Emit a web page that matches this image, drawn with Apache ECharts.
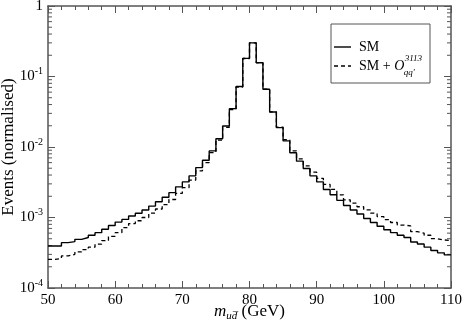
<!DOCTYPE html>
<html>
<head>
<meta charset="utf-8">
<script src="https://cdn.jsdelivr.net/npm/echarts@6/dist/echarts.min.js"></script>
<style>
body{margin:0;background:#fff}
#main{width:464px;height:327px}
</style>
</head>
<body>
<div id="main"></div>
<script>
// bin edges of the m_ud histogram (1 GeV bins), last entry closes the last bin
var binEdges = [50,51,52,53,54,55,56,57,58,59,60,61,62,63,64,65,66,67,68,69,
                70,71,72,73,74,75,76,77,78,79,80,81,82,83,84,85,86,87,88,89,
                90,91,92,93,94,95,96,97,98,99,100,101,102,103,104,105,106,107,108,109,110]

// SM
var smVals = [3.95e-4,3.95e-4,4.4e-4,4.55e-4,4.9e-4,5.2e-4,5.6e-4,6.1e-4,6.8e-4,7.7e-4,
              8.6e-4,9.4e-4,1.05e-3,1.15e-3,1.28e-3,1.45e-3,1.67e-3,1.94e-3,2.25e-3,2.72e-3,
              3.2e-3,3.9e-3,5.1e-3,6.5e-3,8.8e-3,1.31e-2,1.99e-2,3.5e-2,7.2e-2,0.181,
              0.30,0.157,0.066,0.0313,0.0188,0.0122,8.3e-3,6.3e-3,4.95e-3,3.9e-3,
              3.2e-3,2.5e-3,2.1e-3,1.75e-3,1.48e-3,1.28e-3,1.12e-3,9.7e-4,8.5e-4,7.5e-4,
              6.7e-4,6.1e-4,5.6e-4,5.2e-4,4.5e-4,4.2e-4,3.8e-4,3.4e-4,3.15e-4,2.95e-4]

// SM + O_qq'^3113
var opVals = [2.55e-4,2.62e-4,2.85e-4,3.0e-4,3.25e-4,3.5e-4,3.8e-4,4.2e-4,4.7e-4,5.4e-4,
              6.1e-4,7.2e-4,8.2e-4,9.0e-4,1.0e-3,1.15e-3,1.32e-3,1.52e-3,1.8e-3,2.2e-3,
              2.65e-3,3.4e-3,4.6e-3,6.0e-3,8.3e-3,0.0125,0.019,0.034,0.071,0.18,
              0.30,0.157,0.066,0.0315,0.0192,0.0127,8.8e-3,6.8e-3,5.4e-3,4.4e-3,
              3.6e-3,2.95e-3,2.5e-3,2.1e-3,1.78e-3,1.6e-3,1.42e-3,1.28e-3,1.15e-3,1.03e-3,
              9.3e-4,8.5e-4,7.8e-4,7.6e-4,6.3e-4,6.0e-4,5.6e-4,5.0e-4,4.8e-4,4.7e-4]

var yDecades = [1e-4,1e-3,1e-2,1e-1,1]
var yTickLabels = ['10{sup|-4}','10{sup|-3}','10{sup|-2}','10{sup|-1}','1']
var minorMult = [2,3,4,5,6,7,8,9]

var serif = '"Liberation Serif", "DejaVu Serif", serif'
var axisCol = '#555'

function histData(vals) {
    // step line: one point per bin edge, the last one repeats the last bin
    return binEdges.map(function (x, i) {
        return [x, vals[Math.min(i, vals.length - 1)]]
    })
}

var yMinor = []
for (var d = 0; d < yDecades.length - 1; d++) {
    for (var m = 0; m < minorMult.length; m++) {
        yMinor.push([50, yDecades[d] * minorMult[m]])
    }
}

// width of the legend text so the O sup/sub land right after it
var ctx = document.createElement('canvas').getContext('2d')
ctx.font = '14px ' + serif
var wPlain = ctx.measureText('SM + ').width
ctx.font = 'italic 14px ' + serif
var wO = ctx.measureText('O').width
var legX = 359

var chart = echarts.init(document.getElementById('main'))

var option = {
    animation: false,
    backgroundColor: '#fff',
    grid: {left: 48, right: 13, top: 6, bottom: 39, containLabel: false, outerBoundsMode: 'none'},
    xAxis: [
        {
            type: 'value', min: 50, max: 110, interval: 10, position: 'bottom',
            axisLine: {lineStyle: {color: axisCol, width: 1.5}},
            axisTick: {inside: true, length: 7, lineStyle: {color: axisCol}},
            minorTick: {show: true, splitNumber: 5, length: 4, lineStyle: {color: axisCol}},
            splitLine: {show: false},
            axisLabel: {fontFamily: serif, fontSize: 15, color: '#000', margin: 5},
            name: '{it|m}{sub|ud\u0305} (GeV)',
            nameLocation: 'middle',
            nameGap: 13,
            nameMoveOverlap: false,
            nameTextStyle: {
                fontFamily: serif, fontSize: 17, color: '#000',
                rich: {
                    it: {fontFamily: serif, fontSize: 17, fontStyle: 'italic', color: '#000'},
                    sub: {fontFamily: serif, fontSize: 11, fontStyle: 'italic', color: '#000', padding: [10, 0, 0, 0]}
                }
            }
        },
        {
            type: 'value', min: 50, max: 110, interval: 10, position: 'top',
            axisLine: {lineStyle: {color: axisCol, width: 1.5}},
            axisTick: {inside: true, length: 7, lineStyle: {color: axisCol}},
            minorTick: {show: true, splitNumber: 5, length: 4, lineStyle: {color: axisCol}},
            splitLine: {show: false},
            axisLabel: {show: false}
        }
    ],
    yAxis: [
        {
            type: 'log', logBase: 10, min: 1e-4, max: 1, position: 'left',
            axisLine: {show: true, lineStyle: {color: axisCol, width: 1.5}},
            axisTick: {show: true, inside: true, length: 7, lineStyle: {color: axisCol}},
            splitLine: {show: false},
            axisLabel: {
                margin: 5, fontFamily: serif, fontSize: 15, color: '#000',
                formatter: function (v) {
                    var i = Math.round(Math.log10(v)) + 4
                    return yTickLabels[i]
                },
                rich: {
                    sup: {fontFamily: serif, fontSize: 10, color: '#000', padding: [0, 0, 10, 0]}
                }
            },
            name: 'Events (normalised)',
            nameLocation: 'middle',
            nameGap: 31,
            nameMoveOverlap: false,
            nameTextStyle: {fontFamily: serif, fontSize: 17, color: '#000'}
        },
        {
            type: 'log', logBase: 10, min: 1e-4, max: 1, position: 'right',
            axisLine: {show: true, lineStyle: {color: axisCol, width: 1.5}},
            axisTick: {show: true, inside: true, length: 7, lineStyle: {color: axisCol}},
            splitLine: {show: false},
            axisLabel: {show: false}
        }
    ],
    series: [
        {
            // minor ticks of the log axes at 2..9 x 10^n
            type: 'custom',
            silent: true,
            clip: false,
            data: yMinor,
            renderItem: function (params, api) {
                var p = api.coord([50, api.value(1)])
                var q = api.coord([110, api.value(1)])
                return {
                    type: 'group',
                    children: [
                        {type: 'line', shape: {x1: p[0], y1: p[1], x2: p[0] + 4, y2: p[1]}, style: {stroke: axisCol, lineWidth: 1}},
                        {type: 'line', shape: {x1: q[0], y1: q[1], x2: q[0] - 4, y2: q[1]}, style: {stroke: axisCol, lineWidth: 1}}
                    ]
                }
            }
        },
        {
            name: 'SM + O',
            type: 'line',
            step: 'end',
            showSymbol: false,
            data: histData(opVals),
            lineStyle: {color: '#000', width: 1.3, type: [4, 3]}
        },
        {
            name: 'SM',
            type: 'line',
            step: 'end',
            showSymbol: false,
            data: histData(smVals),
            lineStyle: {color: '#000', width: 1.4}
        }
    ],
    graphic: [
        {type: 'rect', shape: {x: 331, y: 24, width: 99, height: 59}, style: {fill: '#fff', stroke: axisCol, lineWidth: 1}, z: 10},
        {type: 'line', shape: {x1: 334, y1: 47, x2: 351, y2: 47}, style: {stroke: '#000', lineWidth: 1.4}, z: 11},
        {type: 'text', x: legX, y: 47, style: {text: 'SM', font: '14px ' + serif, fill: '#000', verticalAlign: 'middle'}, z: 11},
        {type: 'line', shape: {x1: 334, y1: 66, x2: 351, y2: 66}, style: {stroke: '#000', lineWidth: 1.3, lineDash: [4, 3]}, z: 11},
        {type: 'text', x: legX, y: 66, style: {text: 'SM + ', font: '14px ' + serif, fill: '#000', verticalAlign: 'middle'}, z: 11},
        {type: 'text', x: legX + wPlain, y: 66, style: {text: 'O', font: 'italic 14px ' + serif, fill: '#000', verticalAlign: 'middle'}, z: 11},
        {type: 'text', x: legX + wPlain + wO + 0.5, y: 59, style: {text: '3113', font: 'italic 9px ' + serif, fill: '#000', verticalAlign: 'middle'}, z: 11},
        {type: 'text', x: legX + wPlain + wO - 0.5, y: 73, style: {text: "qq'", font: 'italic 9px ' + serif, fill: '#000', verticalAlign: 'middle'}, z: 11}
    ]
}

chart.setOption(option)
</script>
</body>
</html>
